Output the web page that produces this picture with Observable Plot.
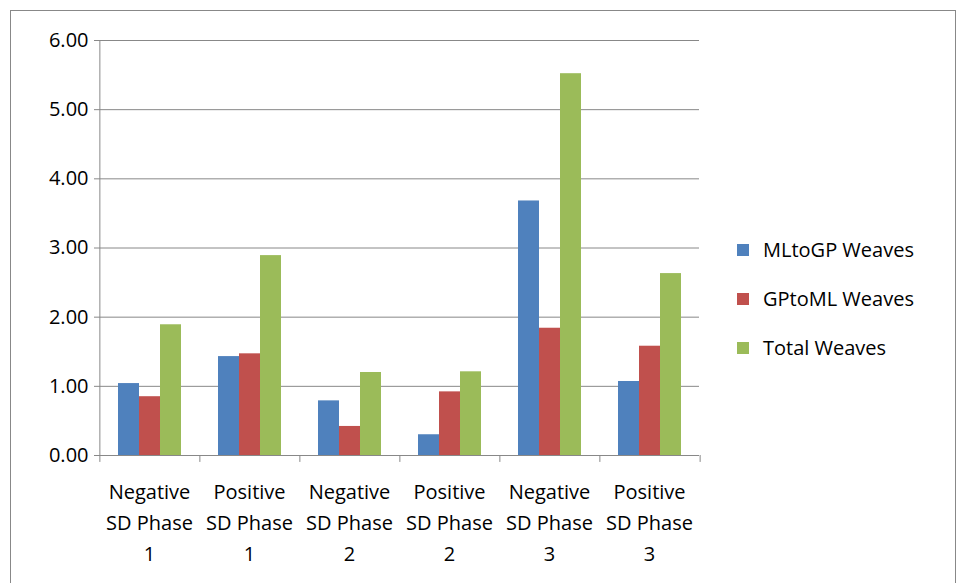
<!DOCTYPE html>
<html>
<head>
<meta charset="utf-8">
<script src="https://cdn.jsdelivr.net/npm/d3@7"></script>
<script src="https://cdn.jsdelivr.net/npm/@observablehq/plot@0.6"></script>
<style>
  body { margin: 0; background: #fff; font-family: "Open Sans", sans-serif; }
  #frame { position: absolute; left: 10px; top: 10px; width: 944px; height: 580px; border: 1px solid #888; }
  #chart { position: absolute; left: 0; top: 0; }
  .legend { position: absolute; left: 737px; font-size: 20px; color: #000; }
  .legend div { height: 49px; display: flex; align-items: center; }
  .legend span { display: inline-block; width: 12px; height: 12px; margin-right: 14px; }
</style>
</head>
<body>
<div id="frame"></div>
<div id="chart"></div>
<div class="legend" style="top:225px"></div>
<script>
const groups = ["Negative\nSD Phase\n1", "Positive\nSD Phase\n1", "Negative\nSD Phase\n2", "Positive\nSD Phase\n2", "Negative\nSD Phase\n3", "Positive\nSD Phase\n3"];
const series = ["MLtoGP Weaves", "GPtoML Weaves", "Total Weaves"];
const colors = ["#4F81BD", "#C0504D", "#9BBB59"];
const mltogp = [1.04, 1.43, 0.79, 0.30, 3.68, 1.07];
const gptoml = [0.85, 1.47, 0.42, 0.92, 1.84, 1.58];
const total = [1.89, 2.89, 1.20, 1.21, 5.52, 2.63];
const yTicks = [0, 1, 2, 3, 4, 5, 6];

const values = [mltogp, gptoml, total];
const rows = [];
groups.forEach((g, i) => series.forEach((s, j) => rows.push({group: g, series: s, value: values[j][i]})));

const W = 720, ML = 97, MR = 20, outer = 0.88;
// distance from the first bar's centre to its facet's left edge
const step = (W - ML - MR) / groups.length / (series.length + 2 * outer);
const edge = outer * step + step / 2;

const chart = Plot.plot({
  width: W,
  height: 583,
  marginTop: 40,
  marginLeft: ML,
  marginRight: MR,
  marginBottom: 128,
  style: { fontSize: "20px", fontFamily: "Open Sans, sans-serif", color: "#000", overflow: "visible" },
  fx: { domain: groups, padding: 0, label: null, axis: null },
  x: { domain: series, paddingInner: 0, paddingOuter: outer, axis: null },
  y: { domain: [0, 6], label: null, axis: null },
  color: { domain: series, range: colors },
  marks: [
    Plot.gridY(yTicks.slice(1), { stroke: "#888", strokeOpacity: 1 }),
    Plot.barY(rows, { fx: "group", x: "series", y: "value", fill: "series" }),
    Plot.ruleY([0], { stroke: "#888" }),
    Plot.ruleX([groups[0]], { fx: d => d, x: () => series[0], dx: -edge, y1: 0, y2: 6, stroke: "#888" }),
    Plot.ruleX(groups, { fx: d => d, x: () => series[0], dx: -edge, y1: 0, y2: -0.1, stroke: "#888", clip: false }),
    Plot.ruleX([groups[groups.length - 1]], { fx: d => d, x: () => series[2], dx: edge, y1: 0, y2: -0.1, stroke: "#888", clip: false }),
    Plot.axisFx({ anchor: "bottom", tickSize: 0, lineHeight: 1.55, fontSize: 20, dy: 12 }),
    Plot.axisY({ ticks: yTicks, tickFormat: d => d.toFixed(2), tickSize: 5, stroke: "#888", fontSize: 20, tickPadding: 6 })
  ]
});
document.getElementById("chart").append(chart);

const leg = document.querySelector(".legend");
series.forEach((s, i) => {
  const d = document.createElement("div");
  d.innerHTML = `<span style="background:${colors[i]}"></span>${s}`;
  leg.append(d);
});
</script>
</body>
</html>
